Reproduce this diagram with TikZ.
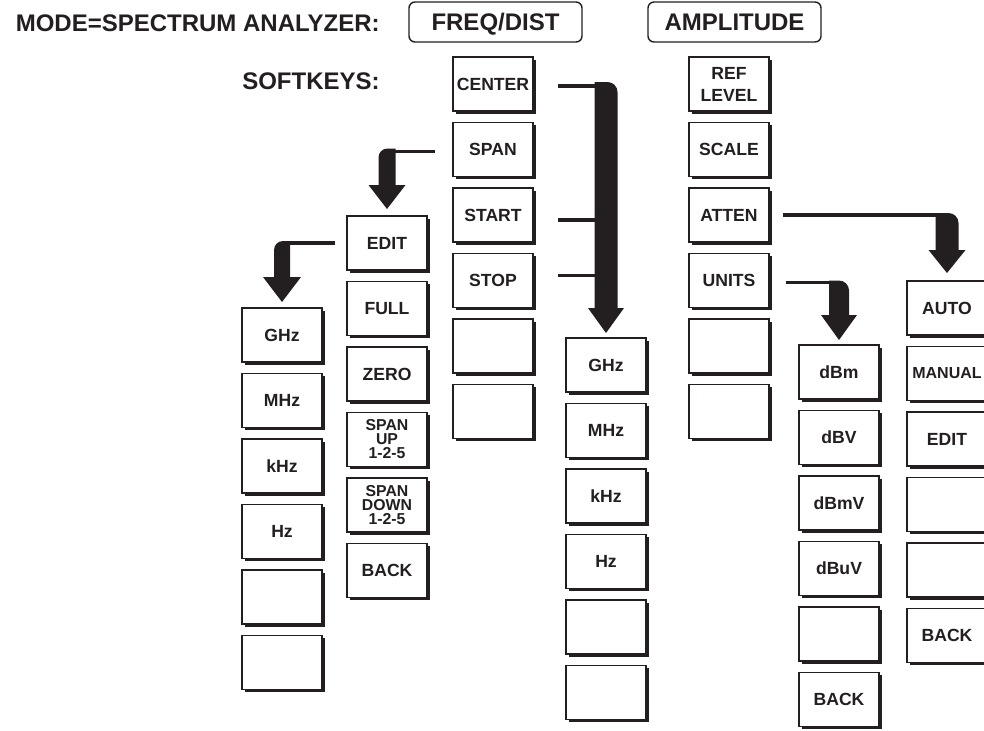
\documentclass[tikz,border=0pt]{standalone}
\usepackage{fontspec}
\setsansfont{Liberation Sans}
\usetikzlibrary{positioning, calc, shadows}
\definecolor{ink}{HTML}{231F20}

\begin{document}
\begin{tikzpicture}[
    x=0.5pt, y=-0.5pt,
    softkey/.style={draw=ink, line width=0.7pt, fill=white, text=ink, minimum width=40pt, minimum height=27pt, inner sep=0pt, outer sep=0pt, align=center, font=\sffamily\bfseries\fontsize{8.8}{11}\selectfont, drop shadow={shadow xshift=1.3pt, shadow yshift=-1.3pt, opacity=1, fill=ink}},
    smallkey/.style={font=\sffamily\bfseries\fontsize{7.9}{7}\selectfont},
    menukey/.style={draw=ink, line width=0.7pt, rounded corners=3pt, text=ink, minimum width=86.5pt, minimum height=20pt, font=\sffamily\bfseries\fontsize{12}{14}\selectfont, text height=8.6pt, text depth=0pt},
    headtext/.style={text=ink, inner sep=0pt, font=\sffamily\bfseries\fontsize{12}{14}\selectfont, text height=8.6pt, text depth=0pt},
    lead/.style={draw=ink, line width=1.8pt},
    elbow/.style={fill=ink},
    node distance=5.75pt,
  ]
  \useasboundingbox (0,0) rectangle (984,730);

  % header
  \node[headtext, anchor=east] (mode) at (380,23) {MODE=SPECTRUM ANALYZER:};
  \node[menukey] (freq) at (495.5,22) {FREQ/DIST};
  \node[menukey] (ampl) at (734.5,22) {AMPLITUDE};
  \node[headtext, anchor=east] (soft) at (380,81) {SOFTKEYS:};

  % FREQ/DIST softkeys
  \node[softkey, anchor=north west] (cent) at (453,57) {CENTER};
  \node[softkey, below=of cent]   (span)   {SPAN};
  \node[softkey, below=of span]   (start)  {START};
  \node[softkey, below=of start]  (stop)   {STOP};
  \node[softkey, below=of stop]   (cblank1) {};
  \node[softkey, below=of cblank1] (cblank2) {};

  % SPAN submenu
  \node[softkey, anchor=north west] (bedit) at (347,216) {EDIT};
  \node[softkey, below=of bedit]  (bfull)  {FULL};
  \node[softkey, below=of bfull]  (bzero)  {ZERO};
  \node[softkey, smallkey, below=of bzero] (bup)   {SPAN\\UP\\1-2-5};
  \node[softkey, smallkey, below=of bup]   (bdown) {SPAN\\DOWN\\1-2-5};
  \node[softkey, below=of bdown]  (bback)  {BACK};

  % span edit units
  \node[softkey, anchor=north west] (aghz) at (242,308) {GHz};
  \node[softkey, below=of aghz]   (amhz)   {MHz};
  \node[softkey, below=of amhz]   (akhz)   {kHz};
  \node[softkey, below=of akhz]   (ahz)    {Hz};
  \node[softkey, below=of ahz]    (ablank1) {};
  \node[softkey, below=of ablank1] (ablank2) {};

  % center/start/stop units
  \node[softkey, anchor=north west] (dghz) at (566,338) {GHz};
  \node[softkey, below=of dghz]   (dmhz)   {MHz};
  \node[softkey, below=of dmhz]   (dkhz)   {kHz};
  \node[softkey, below=of dkhz]   (dhz)    {Hz};
  \node[softkey, below=of dhz]    (dblank1) {};
  \node[softkey, below=of dblank1] (dblank2) {};

  % AMPLITUDE softkeys
  \node[softkey, anchor=north west] (ref) at (689,57) {REF\\LEVEL};
  \node[softkey, below=of ref]    (scale)  {SCALE};
  \node[softkey, below=of scale]  (atten)  {ATTEN};
  \node[softkey, below=of atten]  (units)  {UNITS};
  \node[softkey, below=of units]  (eblank1) {};
  \node[softkey, below=of eblank1] (eblank2) {};

  % UNITS submenu
  \node[softkey, anchor=north west] (fdbm) at (799,345) {dBm};
  \node[softkey, below=of fdbm]   (fdbv)   {dBV};
  \node[softkey, below=of fdbv]   (fdbmv)  {dBmV};
  \node[softkey, below=of fdbmv]  (fdbuv)  {dBuV};
  \node[softkey, below=of fdbuv]  (fblank) {};
  \node[softkey, below=of fblank] (fback)  {BACK};

  % ATTEN submenu
  \node[softkey, anchor=north west] (gauto) at (907,281) {AUTO};
  \node[softkey, font=\sffamily\bfseries\fontsize{8}{10}\selectfont, below=of gauto] (gmanual) {MANUAL};
  \node[softkey, below=of gmanual] (gedit)  {EDIT};
  \node[softkey, below=of gedit]   (gblank1) {};
  \node[softkey, below=of gblank1] (gblank2) {};
  \node[softkey, below=of gblank2] (gback)  {BACK};

  % CENTER, START, STOP -> units
  \draw[lead] ($(cent.east)+(25,2)$) -- ($(cent.east -| dghz.north)+(-6,2)$);
  \draw[lead] ($(start.east)+(25,5)$) -- ($(start.east -| dghz.north)+(-6,5)$);
  \draw[lead] ($(stop.east)+(25,-5)$) -- ($(stop.east -| dghz.north)+(-6,-5)$);
  \fill[elbow] ($(cent.east -| dghz.north)+(-11.5,-2)$) -- ($(cent.east -| dghz.north)+(1.5,-2)$)
    arc[start angle=90, end angle=0, radius=5pt]
    -- ($(dghz.north)+(11.5,-30)$) -- ($(dghz.north)+(18,-30)$) -- ($(dghz.north)+(0,-5)$)
    -- ($(dghz.north)+(-18,-30)$) -- ($(dghz.north)+(-11.5,-30)$) -- cycle;

  % SPAN -> EDIT
  \draw[lead] ($(span.west)+(-18,2)$) -- ($(span.west -| bedit.north)+(4,2)$);
  \fill[elbow] ($(span.west -| bedit.north)+(8.5,-1)$) -- ($(span.west -| bedit.north)+(0.5,-1)$)
    arc[start angle=90, end angle=180, radius=4.5pt]
    -- ($(bedit.north)+(-8.5,-31)$) -- ($(bedit.north)+(-18.5,-31)$) -- ($(bedit.north)+(0,-7)$)
    -- ($(bedit.north)+(18.5,-31)$) -- ($(bedit.north)+(8.5,-31)$) -- cycle;

  % EDIT -> GHz
  \draw[lead] ($(bedit.west)+(-12,0)$) -- ($(bedit.west -| aghz.north)+(4,0)$);
  \fill[elbow] ($(bedit.west -| aghz.north)+(8,-2)$) -- ($(bedit.west -| aghz.north)+(1,-2)$)
    arc[start angle=90, end angle=180, radius=4.5pt]
    -- ($(aghz.north)+(-8,-31)$) -- ($(aghz.north)+(-19,-31)$) -- ($(aghz.north)+(0,-6)$)
    -- ($(aghz.north)+(19,-31)$) -- ($(aghz.north)+(8,-31)$) -- cycle;

  % ATTEN -> AUTO
  \draw[lead] ($(atten.east)+(14,0)$) -- ($(atten.east -| gauto.north)+(-6,0)$);
  \fill[elbow] ($(atten.east -| gauto.north)+(-11.5,-2)$) -- ($(atten.east -| gauto.north)+(1.5,-2)$)
    arc[start angle=90, end angle=0, radius=5pt]
    -- ($(gauto.north)+(11.5,-31)$) -- ($(gauto.north)+(18.5,-31)$) -- ($(gauto.north)+(0,-8)$)
    -- ($(gauto.north)+(-18.5,-31)$) -- ($(gauto.north)+(-11.5,-31)$) -- cycle;

  % UNITS -> dBm
  \draw[lead] ($(units.east)+(17,2)$) -- ($(units.east -| fdbm.north)+(-5,2)$);
  \fill[elbow] ($(units.east -| fdbm.north)+(-10,0)$) -- ($(units.east -| fdbm.north)+(0,0)$)
    arc[start angle=90, end angle=0, radius=5pt]
    -- ($(fdbm.north)+(10,-30)$) -- ($(fdbm.north)+(18,-30)$) -- ($(fdbm.north)+(0,-5)$)
    -- ($(fdbm.north)+(-18,-30)$) -- ($(fdbm.north)+(-10,-30)$) -- cycle;
\end{tikzpicture}
\end{document}
